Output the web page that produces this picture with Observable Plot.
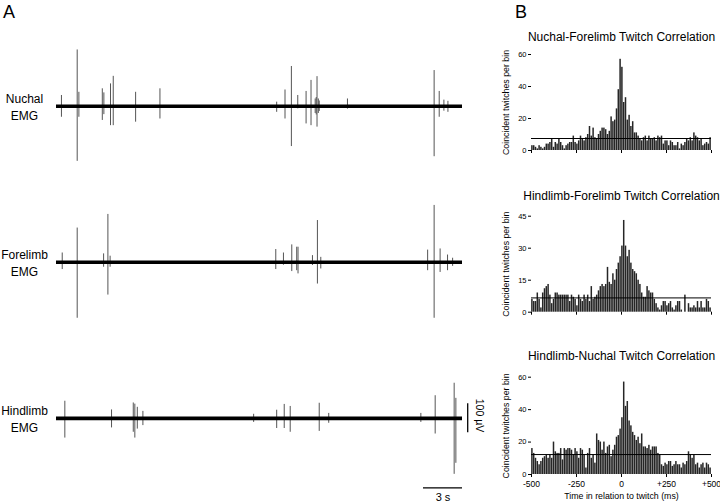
<!DOCTYPE html>
<html>
<head>
<meta charset="utf-8">
<script src="https://cdn.jsdelivr.net/npm/d3@7"></script>
<script src="https://cdn.jsdelivr.net/npm/@observablehq/plot@0.6"></script>
<style>
  html, body { margin: 0; padding: 0; background: #fff; }
  #fig { position: relative; width: 720px; height: 504px; background: #fff;
         font-family: "Liberation Sans", Arial, Helvetica, sans-serif; color: #000; }
  .panel { position: absolute; font-size: 18px; line-height: 1; }
</style>
</head>
<body>
<div id="fig">
  <div class="panel" style="left:3px;top:3px;">A</div>
  <div class="panel" style="left:515px;top:3px;">B</div>
</div>
<script>
// ---------------- Panel A data (EMG traces) ----------------
const channels = ["Nuchal", "Forelimb", "Hindlimb"];
const channelOffsets = [0, -538, -1076]; // µV offset of each trace baseline
const traceDuration = 31.2; // s

// spike times (s), upward and downward excursion (µV)
const nuchalTimes = [0.38, 1.59, 1.72, 3.52, 3.64, 4.15, 4.36, 6.08, 7.95, 16.92, 17.56, 18.05, 18.54, 19.18, 19.56, 19.88, 19.96, 20.02, 20.12, 20.19, 22.36, 29.02, 29.41, 29.77, 30.08];
const nuchalUp     = [37, 194, 48, 60, 46, 77, 103, 48, 60, 14, 56, 137, 37, 51, 89, 25, 30, 102, 25, 18, 25, 123, 51, 21, 17];
const nuchalDown   = [38, 190, 38, 49, 29, 67, 67, 55, 44, 21, 44, 139, 9, 61, 67, 25, 30, 72, 25, 18, 10, 174, 38, 17, 21];

const forelimbTimes = [0.44, 1.59, 3.62, 3.95, 4.12, 16.85, 17.44, 18.08, 18.46, 18.56, 19.67, 20.05, 20.31, 28.52, 29.02, 29.48, 30.05, 30.44];
const forelimbUp    = [32, 118, 29, 165, 21, 44, 32, 60, 52, 52, 23, 144, 17, 42, 196, 46, 25, 14];
const forelimbDown  = [25, 193, 17, 113, 17, 25, 10, 32, 29, 40, 11, 75, 23, 29, 193, 35, 29, 14];

const hindlimbTimes = [0.64, 4.23, 5.90, 6.02, 6.21, 6.64, 15.15, 16.92, 17.50, 17.96, 20.19, 20.92, 28.00, 29.10, 30.56, 30.69];
const hindlimbUp    = [59, 29, 53, 49, 38, 24, 14, 28, 48, 41, 52, 17, 17, 78, 121, 69];
const hindlimbDown  = [68, 33, 48, 68, 37, 25, 14, 35, 35, 48, 45, 17, 14, 54, 193, 155];

// scale bars
const scaleBarMicrovolts = 100;
const scaleBarSeconds = 3;
const scaleBarTime = 31.6;     // s (vertical bar position)
const timeBarLevel = -1316;    // µV (horizontal bar level)

// ---------------- Panel B data (cross-correlation histograms, 10 ms bins) ----------------
const binEdgesStart = -500, binWidth = 10;
const xTickValues = [-500, -250, 0, 250, 500];

const nuchalForelimbCounts = [
  3,3,2,1,3,2,1,2,4,4,
  5,7,2,5,4,7,5,3,1,3,
  4,5,5,9,5,4,6,9,7,6,
  8,10,15,9,14,8,7,10,12,14,
  14,13,10,12,21,18,19,26,38,57,
  52,30,33,19,22,15,18,11,11,9,
  7,6,8,9,6,9,7,7,8,6,
  9,8,9,4,6,6,3,6,5,3,
  3,5,1,4,3,5,7,6,8,6,
  11,9,8,6,7,3,4,5,4,8
];
const nuchalForelimbMean = 7.5;

const hindlimbForelimbCounts = [
  6,5,5,9,6,2,9,11,12,13,
  8,4,6,9,9,8,8,8,8,8,
  8,5,8,7,6,3,8,6,5,8,
  6,8,5,12,6,7,8,10,12,13,
  12,13,21,14,13,18,15,20,23,26,
  31,43,31,26,29,23,20,19,18,15,
  13,9,7,7,12,10,9,9,6,4,
  2,1,3,5,5,3,4,5,2,1,
  3,5,5,1,0,8,0,4,2,2,
  3,2,5,2,5,2,2,6,5,2
];
const hindlimbForelimbMean = 6.7;

const hindlimbNuchalCounts = [
  16,13,10,8,6,8,10,11,12,10,
  12,10,20,14,13,13,16,9,16,15,
  16,16,15,12,16,14,10,16,15,12,
  4,13,16,10,12,7,25,21,20,15,
  20,13,17,18,11,15,18,23,24,28,
  35,57,42,45,33,30,26,24,21,23,
  19,25,17,17,16,18,15,17,17,17,
  13,12,6,5,7,6,8,8,5,6,
  8,6,6,4,7,6,8,14,12,10,
  12,6,7,4,6,7,4,7,6,4
];
const hindlimbNuchalMean = 12.3;

const fontFamily = '"Liberation Sans", Arial, Helvetica, sans-serif';
const fig = document.getElementById("fig");

function place(el, left, top) {
  el.style.position = "absolute";
  el.style.left = left + "px";
  el.style.top = top + "px";
  fig.appendChild(el);
}

// ---------------- Panel A ----------------
function spikeRows(times, up, down, offset) {
  return times.map((t, i) => ({t, top: offset + up[i], bottom: offset - down[i]}));
}
const spikes = [
  ...spikeRows(nuchalTimes, nuchalUp, nuchalDown, channelOffsets[0]),
  ...spikeRows(forelimbTimes, forelimbUp, forelimbDown, channelOffsets[1]),
  ...spikeRows(hindlimbTimes, hindlimbUp, hindlimbDown, channelOffsets[2])
];
const channelRows = channels.map((name, i) => ({name, offset: channelOffsets[i]}));
const hindOffset = channelOffsets[2];

const panelA = Plot.plot({
  width: 470, height: 504,
  marginLeft: 56, marginRight: 8, marginTop: 0, marginBottom: 0,
  x: {domain: [0, traceDuration], axis: null},
  y: {domain: [-1373, 364.5], axis: null},
  style: {fontFamily, background: "transparent", overflow: "visible"},
  marks: [
    Plot.ruleX(spikes, {x: "t", y1: "top", y2: "bottom", stroke: "#555", strokeWidth: 1}),
    Plot.ruleY(channelRows, {y: "offset", x1: 0, x2: traceDuration, stroke: "#000", strokeWidth: 3.6}),
    Plot.text(channelRows, {y: "offset", frameAnchor: "left", dx: -32, text: d => d.name + "\nEMG",
      textAnchor: "middle", lineAnchor: "middle", lineHeight: 1.4, fontSize: 12, fill: "#000"}),
    // vertical 100 µV scale bar
    Plot.ruleX([scaleBarTime], {x: d => d, y1: hindOffset + scaleBarMicrovolts / 2, y2: hindOffset - scaleBarMicrovolts / 2, stroke: "#000", strokeWidth: 1.3}),
    Plot.text([scaleBarMicrovolts + " µV"], {x: scaleBarTime, y: hindOffset + 10, dx: 12, text: d => d, rotate: 90, textAnchor: "middle", fontSize: 10.5, fill: "#000"}),
    // horizontal 3 s scale bar
    Plot.ruleY([timeBarLevel], {y: d => d, x1: traceDuration - scaleBarSeconds, x2: traceDuration, stroke: "#000", strokeWidth: 1.3}),
    Plot.text([scaleBarSeconds + " s"], {x: traceDuration - scaleBarSeconds / 2, y: timeBarLevel, dy: 10, text: d => d, fontSize: 11, fill: "#000"})
  ]
});
place(panelA, 0, 0);

// ---------------- Panel B ----------------
const fmtTick = d => d > 0 ? "+" + d : String(d);

function histogram({counts, mean, yMax, yTicks, title, top, height, marginTop, marginBottom, titleDy, xLabels}) {
  const bins = counts.map((v, i) => ({x1: binEdgesStart + i * binWidth, x2: binEdgesStart + (i + 1) * binWidth, y: v}));
  const marks = [
    Plot.rectY(bins, {x1: "x1", x2: "x2", y: "y", fill: "#262626", insetLeft: 0.15, insetRight: 0.15}),
    Plot.ruleY([mean], {stroke: "#000", strokeWidth: 1}),
    Plot.axisY({ticks: yTicks, tickSize: 3, tickPadding: 2, fontSize: 7.5, label: null}),
    Plot.axisX({ticks: xTickValues, tickSize: 3, tickPadding: 3, fontSize: 8.5, label: null,
      tickFormat: xLabels ? fmtTick : () => ""}),
    Plot.text([title], {frameAnchor: "top", dy: titleDy, text: d => d, fontSize: 12, textAnchor: "middle", lineAnchor: "middle", fill: "#000"}),
    Plot.text(["Coincident twitches per bin"], {frameAnchor: "left", dx: -25.5, rotate: -90, text: d => d, fontSize: 8.8, textAnchor: "middle", lineAnchor: "middle", fill: "#000"})
  ];
  if (xLabels) {
    marks.push(Plot.text(["Time in relation to twitch (ms)"], {frameAnchor: "bottom", dy: 22, text: d => d, fontSize: 8.8, textAnchor: "middle", lineAnchor: "middle", fill: "#000"}));
  }
  const svg = Plot.plot({
    width: 220, height,
    marginLeft: 31, marginRight: 9, marginTop, marginBottom,
    x: {domain: [-500, 500]},
    y: {domain: [0, yMax]},
    style: {fontFamily, background: "transparent", overflow: "visible"},
    marks
  });
  place(svg, 500, top);
}

histogram({counts: nuchalForelimbCounts, mean: nuchalForelimbMean, yMax: 60, yTicks: [0, 20, 40, 60],
  title: "Nuchal-Forelimb Twitch Correlation", top: 25, height: 140, marginTop: 29, marginBottom: 15, titleDy: -17.5, xLabels: false});
histogram({counts: hindlimbForelimbCounts, mean: hindlimbForelimbMean, yMax: 45, yTicks: [0, 15, 30, 45],
  title: "Hindlimb-Forelimb Twitch Correlation", top: 185, height: 135, marginTop: 30.7, marginBottom: 8.3, titleDy: -19.7, xLabels: false});
histogram({counts: hindlimbNuchalCounts, mean: hindlimbNuchalMean, yMax: 60, yTicks: [0, 20, 40, 60],
  title: "Hindlimb-Nuchal Twitch Correlation", top: 330, height: 174, marginTop: 46.7, marginBottom: 30, titleDy: -21, xLabels: true});
</script>
</body>
</html>
